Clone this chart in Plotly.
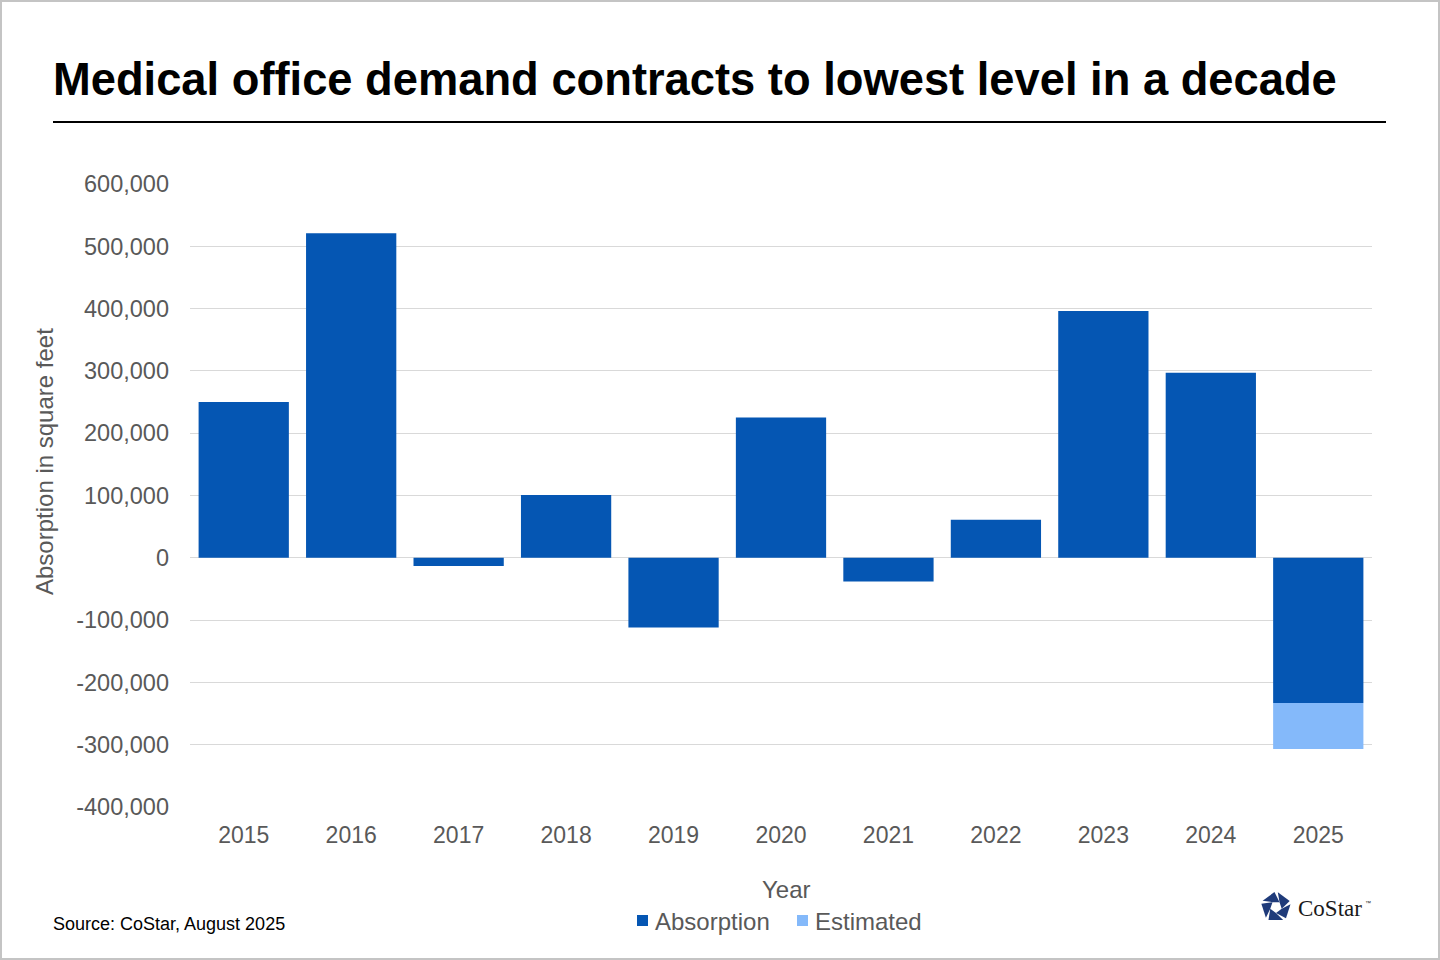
import math
import plotly.graph_objects as go

# data
years = ["2015", "2016", "2017", "2018", "2019", "2020", "2021", "2022", "2023", "2024", "2025"]
absorption = [250000, 521000, -13000, 101000, -112000, 225000, -38000, 61000, 396000, 297000, -233000]
estimated = [0, 0, 0, 0, 0, 0, 0, 0, 0, 0, -74000]
y_ticks = [-400000, -300000, -200000, -100000, 0, 100000, 200000, 300000, 400000, 500000, 600000]
y_labels = [f"{v:,}" for v in y_ticks]
colors = {"Absorption": "#0556b3", "Estimated": "#84b9fa"}

W, H = 1440, 960
L, R, T, B = 190, 68, 184, 153


def px(x):
    return (x - L) / (W - L - R)


def py(y):
    return (H - B - y) / (H - T - B)


fig = go.Figure()
fig.add_trace(go.Bar(x=years, y=absorption, name="Absorption",
                     marker=dict(color=colors["Absorption"], line=dict(width=0))))
fig.add_trace(go.Bar(x=years, y=estimated, name="Estimated",
                     marker=dict(color=colors["Estimated"], line=dict(width=0))))

fig.update_layout(
    width=W, height=H,
    margin=dict(l=L, r=R, t=T, b=B),
    paper_bgcolor="white", plot_bgcolor="white",
    barmode="relative", bargap=0.16,
    font=dict(family="Liberation Sans, Arial, sans-serif", color="#595959"),
    showlegend=False,
)
fig.update_xaxes(showline=False, showgrid=False, ticks="", tickfont=dict(size=23, color="#595959"),
                 ticklabelstandoff=12)
fig.update_yaxes(range=[-400000, 600000], tickvals=y_ticks, ticktext=y_labels, showgrid=True,
                 gridcolor="#d9d9d9", gridwidth=1, zeroline=True, zerolinecolor="#d9d9d9", zerolinewidth=1,
                 tickfont=dict(size=23.5, color="#595959"), ticklabelstandoff=20)

ann = [
    dict(text="<b>Medical office demand contracts to lowest level in a decade</b>", x=px(51), y=py(80),
         xanchor="left", yanchor="middle", font=dict(size=45.3, color="black")),
    dict(text="Absorption in square feet", x=px(44), y=py(462), textangle=-90,
         xanchor="center", yanchor="middle", font=dict(size=24, color="#595959")),
    dict(text="Year", x=px(786), y=py(889), xanchor="center", yanchor="middle",
         font=dict(size=24, color="#595959")),
    dict(text="Source: CoStar, August 2025", x=px(51), y=py(924), xanchor="left", yanchor="middle",
         font=dict(size=18, color="black")),
    dict(text="CoStar", x=px(1296), y=py(908), xanchor="left", yanchor="middle",
         font=dict(size=23, color="#1a1a1a", family="Liberation Serif, serif")),
    dict(text="™", x=px(1363), y=py(903), xanchor="left", yanchor="middle",
         font=dict(size=6, color="#1a1a1a")),
]

shapes = [
    dict(type="line", x0=px(53), x1=px(1386), y0=py(122), y1=py(122), line=dict(color="black", width=2)),
    dict(type="rect", x0=px(1), x1=px(1439), y0=py(1), y1=py(959), line=dict(color="#c4c4c4", width=2)),
]

# legend drawn by hand so the swatch sits close to its label
for name, x0 in [("Absorption", 637), ("Estimated", 797)]:
    shapes.append(dict(type="rect", x0=px(x0), x1=px(x0 + 11), y0=py(915), y1=py(926),
                       fillcolor=colors[name], line=dict(width=0)))
    ann.append(dict(text=name, x=px(x0 + 16), y=py(921), xanchor="left", yanchor="middle",
                    font=dict(size=24, color="#595959")))

for a in ann:
    a.update(xref="paper", yref="paper", showarrow=False)
fig.update_layout(annotations=ann)

# logo: pentagon cut pinwheel-style into five pieces around a small hole
cx, cy, ro, ri = 1276, 907, 16, 6


def pt(r, deg):
    return (cx + r * math.cos(math.radians(deg)), cy + r * math.sin(math.radians(deg)))


def lerp(p, q, t):
    return (p[0] + (q[0] - p[0]) * t, p[1] + (q[1] - p[1]) * t)


outer = [pt(ro, -90 + 72 * i) for i in range(5)]
inner = [pt(ri, -54 + 72 * i) for i in range(5)]
for i in range(5):
    v0, v1 = outer[i], outer[(i + 1) % 5]
    pts = [lerp(v0, v1, 0.12), lerp(v0, v1, 0.9), inner[(i + 1) % 5], inner[i]]
    path = "M " + " L ".join(f"{px(x):.5f},{py(y):.5f}" for x, y in pts) + " Z"
    shapes.append(dict(type="path", path=path, fillcolor="#1f3b7a", line=dict(width=0)))

fig.update_layout(shapes=shapes)
for s in fig.layout.shapes:
    s.xref = "paper"
    s.yref = "paper"

fig.write_html("out.html", config={"displayModeBar": False},
               post_script="document.body.style.margin='0';")
